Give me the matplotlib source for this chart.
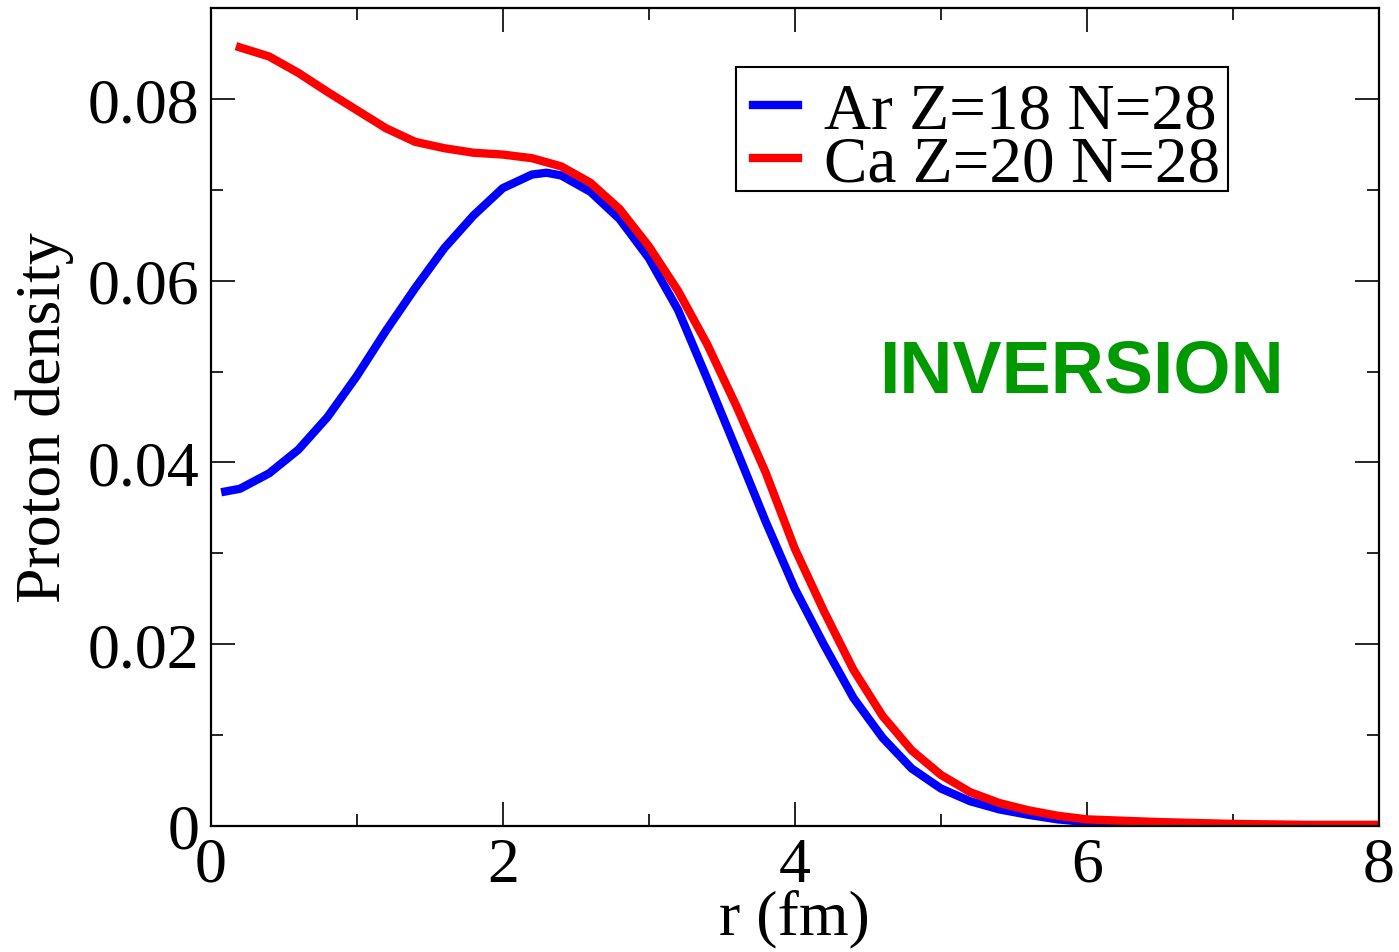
import matplotlib
matplotlib.use("Agg")
import matplotlib.pyplot as plt
from matplotlib.patches import Rectangle
from matplotlib.ticker import MultipleLocator

# proton densities (r in fm)
r_ar = [0.1, 0.2, 0.4, 0.6, 0.8, 1.0, 1.2, 1.4, 1.6, 1.8, 2.0, 2.2, 2.3, 2.4,
        2.6, 2.8, 3.0, 3.2, 3.4, 3.6, 3.8, 4.0, 4.2, 4.4, 4.6, 4.8, 5.0, 5.2,
        5.4, 5.6, 5.8, 6.0, 6.5, 7.0, 7.5, 8.0]
rho_ar = [0.0368, 0.0371, 0.0388, 0.0414, 0.0450, 0.0495, 0.0545, 0.0592,
          0.0636, 0.0672, 0.0702, 0.0717, 0.0719, 0.0716, 0.0698, 0.0668,
          0.0625, 0.0568, 0.0492, 0.0414, 0.0335, 0.0261, 0.0199, 0.0141,
          0.0097, 0.0063, 0.0041, 0.0027, 0.0018, 0.0012, 0.0007, 0.0004,
          0.00015, 0.00005, 0.00002, 0.0]

r_ca = [0.2, 0.4, 0.6, 0.8, 1.0, 1.2, 1.4, 1.6, 1.8, 2.0, 2.2, 2.4, 2.6, 2.8,
        3.0, 3.2, 3.4, 3.6, 3.8, 4.0, 4.2, 4.4, 4.6, 4.8, 5.0, 5.2, 5.4, 5.6,
        5.8, 6.0, 6.5, 7.0, 7.5, 8.0]
rho_ca = [0.0857, 0.0847, 0.0829, 0.0808, 0.0788, 0.0768, 0.0753, 0.0746,
          0.0741, 0.0739, 0.0735, 0.0726, 0.0708, 0.0679, 0.0638, 0.0589,
          0.0530, 0.0462, 0.0389, 0.0305, 0.0236, 0.0172, 0.0121, 0.0083,
          0.0056, 0.0037, 0.0025, 0.0017, 0.0011, 0.0007, 0.0004, 0.0002,
          0.0001, 0.0001]

labels = ["Ar Z=18 N=28", "Ca Z=20 N=28"]

plt.rcParams['font.family'] = ['Liberation Serif', 'DejaVu Serif']
plt.rcParams['font.size'] = 46

fig = plt.figure(figsize=(13.99, 9.53), dpi=100)
ax = fig.add_axes([0.1506, 0.1325, 0.8351, 0.8577])

ax.plot(r_ar, rho_ar, color='#0000ff', lw=6, label=labels[0])
ax.plot(r_ca, rho_ca, color='#ff0000', lw=6, label=labels[1])

ax.set_xlim(0, 8)
ax.set_ylim(0, 0.09)
ax.xaxis.set_major_locator(MultipleLocator(2))
ax.xaxis.set_minor_locator(MultipleLocator(1))
ax.yaxis.set_major_locator(MultipleLocator(0.02))
ax.yaxis.set_minor_locator(MultipleLocator(0.01))
ax.set_yticks([0, 0.02, 0.04, 0.06, 0.08])
ax.set_yticklabels(["0", "0.02", "0.04", "0.06", "0.08"])
ax.tick_params(which='both', direction='in', top=True, right=True, width=1.2)
ax.tick_params(which='major', length=17, pad=8)
ax.tick_params(which='minor', length=8.5)
for s in ax.spines.values():
    s.set_linewidth(1.6)

ax.set_xlabel("r (fm)", labelpad=-4)
ax.set_ylabel("Proton density", labelpad=10)

# legend entries without frame, box drawn separately (tighter like xmgrace)
leg = ax.legend(loc='upper left', bbox_to_anchor=(0.4573, 0.9195),
                frameon=False, handlelength=0.70, handletextpad=0.39,
                labelspacing=-0.1, borderpad=0.12, borderaxespad=0,
                fontsize=47)
ax.add_patch(Rectangle((0.450, 0.776), 0.421, 0.152, transform=ax.transAxes,
                       fill=True, facecolor='white', edgecolor='black',
                       lw=1.5, zorder=4))
leg.set_zorder(5)

ax.text(5.96, 0.0500, "INVERSION", color='#009900', fontsize=53,
        fontweight='bold', family=['Liberation Sans', 'DejaVu Sans'],
        ha='center', va='center')

fig.savefig("out.png", dpi=100)
